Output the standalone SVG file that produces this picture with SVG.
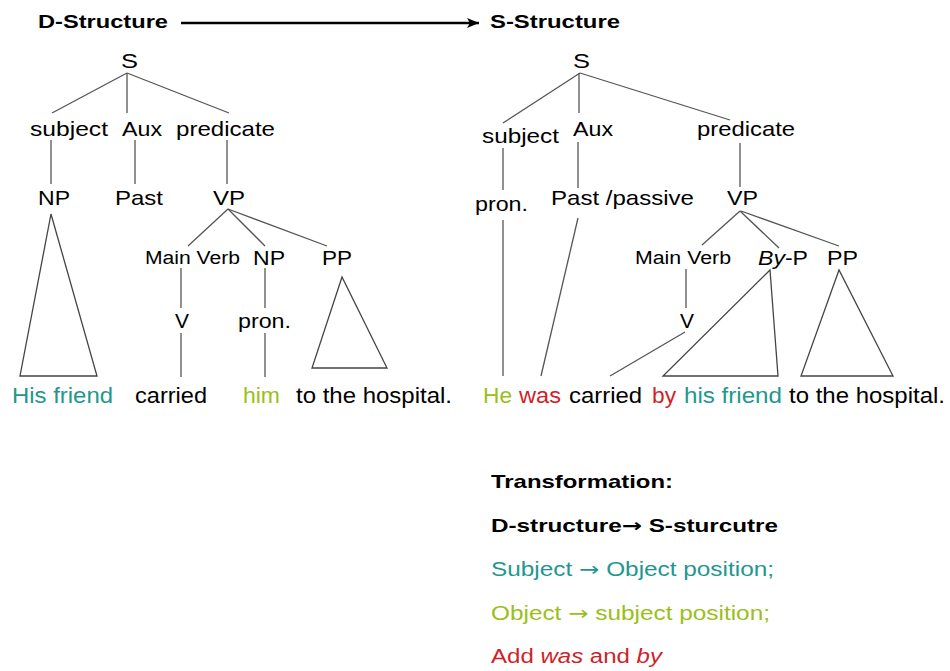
<svg xmlns="http://www.w3.org/2000/svg" width="950" height="671" viewBox="0 0 950 671">
  <defs>
    <marker id="head" viewBox="0 0 12 10" refX="12" refY="5" markerWidth="12" markerHeight="10" markerUnits="userSpaceOnUse" orient="auto">
      <path d="M0,0 L12,5 L0,10 L3,5 Z" fill="#000"/>
    </marker>
  </defs>
  <style>
    text { font-family: "Liberation Sans", Arial, sans-serif; fill: #000; }
    .title { font-size: 18.5px; font-weight: bold; }
    .lbl { font-size: 21px; }
    .small { font-size: 18px; }
    .word { font-size: 22px; }
    .note { font-size: 19.5px; }
    .bold { font-weight: bold; font-size: 18.5px; }
    .arw { font-family: "DejaVu Sans", sans-serif; }
    .teal { fill: #23978f; }
    .lime { fill: #9abf1a; }
    .red { fill: #d11f2a; }
    .edge { stroke: #555; stroke-width: 1.3; fill: none; }
    .tri { stroke: #444; stroke-width: 1.3; fill: none; stroke-linejoin: miter; }
  </style>
  <rect width="950" height="671" fill="#fff"/>

  <!-- headings -->
  <g id="heading-d">
    <text class="title" x="38" y="28" textLength="130" lengthAdjust="spacingAndGlyphs">D-Structure</text>
  </g>
  <g id="heading-s">
    <text class="title" x="490" y="28" textLength="130" lengthAdjust="spacingAndGlyphs">S-Structure</text>
  </g>

  <!-- connectors -->
  <g id="connectors">
    <line x1="181" y1="23" x2="479" y2="23" stroke="#000" stroke-width="2.4" marker-end="url(#head)"/>

    <!-- deep structure tree -->
    <line class="edge" x1="127" y1="73" x2="52" y2="113"/>
    <line class="edge" x1="127" y1="73" x2="127" y2="113"/>
    <line class="edge" x1="127" y1="73" x2="229" y2="113"/>
    <line class="edge" x1="51" y1="140" x2="51" y2="184"/>
    <line class="edge" x1="135" y1="140" x2="135" y2="184"/>
    <line class="edge" x1="227" y1="140" x2="227" y2="184"/>
    <line class="edge" x1="228" y1="209" x2="188" y2="246"/>
    <line class="edge" x1="228" y1="209" x2="265" y2="246"/>
    <line class="edge" x1="228" y1="209" x2="327" y2="246"/>
    <line class="edge" x1="181" y1="268" x2="181" y2="308"/>
    <line class="edge" x1="181" y1="333" x2="181" y2="377"/>
    <line class="edge" x1="265" y1="268" x2="265" y2="308"/>
    <line class="edge" x1="265" y1="333" x2="265" y2="377"/>
    <polygon class="tri" points="51,214 20,376 97,376"/>
    <polygon class="tri" points="342,277 312,368 387,368"/>

    <!-- surface structure tree -->
    <line class="edge" x1="580" y1="73" x2="503" y2="123"/>
    <line class="edge" x1="579" y1="73" x2="579" y2="113"/>
    <line class="edge" x1="580" y1="73" x2="730" y2="120"/>
    <line class="edge" x1="503" y1="148" x2="503" y2="190"/>
    <line class="edge" x1="503" y1="220" x2="503" y2="376"/>
    <line class="edge" x1="578" y1="142" x2="578" y2="188"/>
    <line class="edge" x1="578" y1="218" x2="541" y2="376"/>
    <line class="edge" x1="740" y1="143" x2="740" y2="187"/>
    <line class="edge" x1="740" y1="211" x2="702" y2="245"/>
    <line class="edge" x1="740" y1="211" x2="779" y2="248"/>
    <line class="edge" x1="741" y1="211" x2="839" y2="246"/>
    <line class="edge" x1="686" y1="269" x2="686" y2="308"/>
    <line class="edge" x1="685" y1="332" x2="610" y2="376"/>
    <polygon class="tri" points="770,270 663,376 778,376"/>
    <polygon class="tri" points="839,270 801,376 893,376"/>
  </g>

  <!-- deep structure nodes -->
  <g id="d-S"><text class="lbl" x="121" y="68" textLength="17" lengthAdjust="spacingAndGlyphs">S</text></g>
  <g id="d-subject"><text class="lbl" x="30" y="136" textLength="78" lengthAdjust="spacingAndGlyphs">subject</text></g>
  <g id="d-aux"><text class="lbl" x="122" y="136" textLength="40" lengthAdjust="spacingAndGlyphs">Aux</text></g>
  <g id="d-predicate"><text class="lbl" x="176" y="136" textLength="99" lengthAdjust="spacingAndGlyphs">predicate</text></g>
  <g id="d-NP"><text class="lbl" x="38" y="205" textLength="32" lengthAdjust="spacingAndGlyphs">NP</text></g>
  <g id="d-past"><text class="lbl" x="115" y="205" textLength="48" lengthAdjust="spacingAndGlyphs">Past</text></g>
  <g id="d-VP"><text class="lbl" x="213" y="205" textLength="32" lengthAdjust="spacingAndGlyphs">VP</text></g>
  <g id="d-mainverb"><text class="small" x="145" y="264" textLength="95" lengthAdjust="spacingAndGlyphs">Main Verb</text></g>
  <g id="d-NP2"><text class="lbl" x="253" y="265" textLength="32" lengthAdjust="spacingAndGlyphs">NP</text></g>
  <g id="d-PP"><text class="lbl" x="322" y="265" textLength="30" lengthAdjust="spacingAndGlyphs">PP</text></g>
  <g id="d-V"><text class="lbl" x="175" y="328" textLength="14" lengthAdjust="spacingAndGlyphs">V</text></g>
  <g id="d-pron"><text class="lbl" x="238" y="328" textLength="53" lengthAdjust="spacingAndGlyphs">pron.</text></g>
  <g id="d-sentence">
    <text class="word teal" x="12" y="403" textLength="101" lengthAdjust="spacingAndGlyphs">His friend</text>
    <text class="word" x="135" y="403" textLength="72" lengthAdjust="spacingAndGlyphs">carried</text>
    <text class="word lime" x="243" y="403" textLength="37" lengthAdjust="spacingAndGlyphs">him</text>
    <text class="word" x="296" y="403" textLength="156" lengthAdjust="spacingAndGlyphs">to the hospital.</text>
  </g>

  <!-- surface structure nodes -->
  <g id="s-S"><text class="lbl" x="573" y="68" textLength="17" lengthAdjust="spacingAndGlyphs">S</text></g>
  <g id="s-subject"><text class="lbl" x="482" y="143" textLength="77" lengthAdjust="spacingAndGlyphs">subject</text></g>
  <g id="s-aux"><text class="lbl" x="573" y="136" textLength="40" lengthAdjust="spacingAndGlyphs">Aux</text></g>
  <g id="s-predicate"><text class="lbl" x="697" y="136" textLength="98" lengthAdjust="spacingAndGlyphs">predicate</text></g>
  <g id="s-pron"><text class="lbl" x="475" y="211" textLength="53" lengthAdjust="spacingAndGlyphs">pron.</text></g>
  <g id="s-past"><text class="lbl" x="551" y="205" textLength="143" lengthAdjust="spacingAndGlyphs">Past /passive</text></g>
  <g id="s-VP"><text class="lbl" x="727" y="205" textLength="31" lengthAdjust="spacingAndGlyphs">VP</text></g>
  <g id="s-mainverb"><text class="small" x="635" y="264" textLength="96" lengthAdjust="spacingAndGlyphs">Main Verb</text></g>
  <g id="s-byP"><text class="lbl" x="758" y="265" textLength="50" lengthAdjust="spacingAndGlyphs"><tspan font-style="italic">By</tspan>-P</text></g>
  <g id="s-PP"><text class="lbl" x="827" y="265" textLength="31" lengthAdjust="spacingAndGlyphs">PP</text></g>
  <g id="s-V"><text class="lbl" x="680" y="328" textLength="14" lengthAdjust="spacingAndGlyphs">V</text></g>
  <g id="s-sentence">
    <text class="word lime" x="483" y="403" textLength="29" lengthAdjust="spacingAndGlyphs">He</text>
    <text class="word red" x="519" y="403" textLength="42" lengthAdjust="spacingAndGlyphs">was</text>
    <text class="word" x="569" y="403" textLength="73" lengthAdjust="spacingAndGlyphs">carried</text>
    <text class="word red" x="652" y="403" textLength="24" lengthAdjust="spacingAndGlyphs">by</text>
    <text class="word teal" x="684" y="403" textLength="98" lengthAdjust="spacingAndGlyphs">his friend</text>
    <text class="word" x="789" y="403" textLength="156" lengthAdjust="spacingAndGlyphs">to the hospital.</text>
  </g>

  <!-- summary of the transformation -->
  <g id="summary">
    <text class="bold" x="491" y="488" textLength="182" lengthAdjust="spacingAndGlyphs">Transformation:</text>
    <text class="bold" x="491" y="532" textLength="287" lengthAdjust="spacingAndGlyphs">D-structure<tspan class="arw">→</tspan> S-sturcutre</text>
    <text class="note teal" x="491" y="576" textLength="283" lengthAdjust="spacingAndGlyphs">Subject <tspan class="arw">→</tspan> Object position;</text>
    <text class="note lime" x="491" y="620" textLength="279" lengthAdjust="spacingAndGlyphs">Object <tspan class="arw">→</tspan> subject position;</text>
    <text class="note red" x="491" y="663" textLength="171" lengthAdjust="spacingAndGlyphs">Add <tspan font-style="italic">was</tspan> and <tspan font-style="italic">by</tspan></text>
  </g>
</svg>
